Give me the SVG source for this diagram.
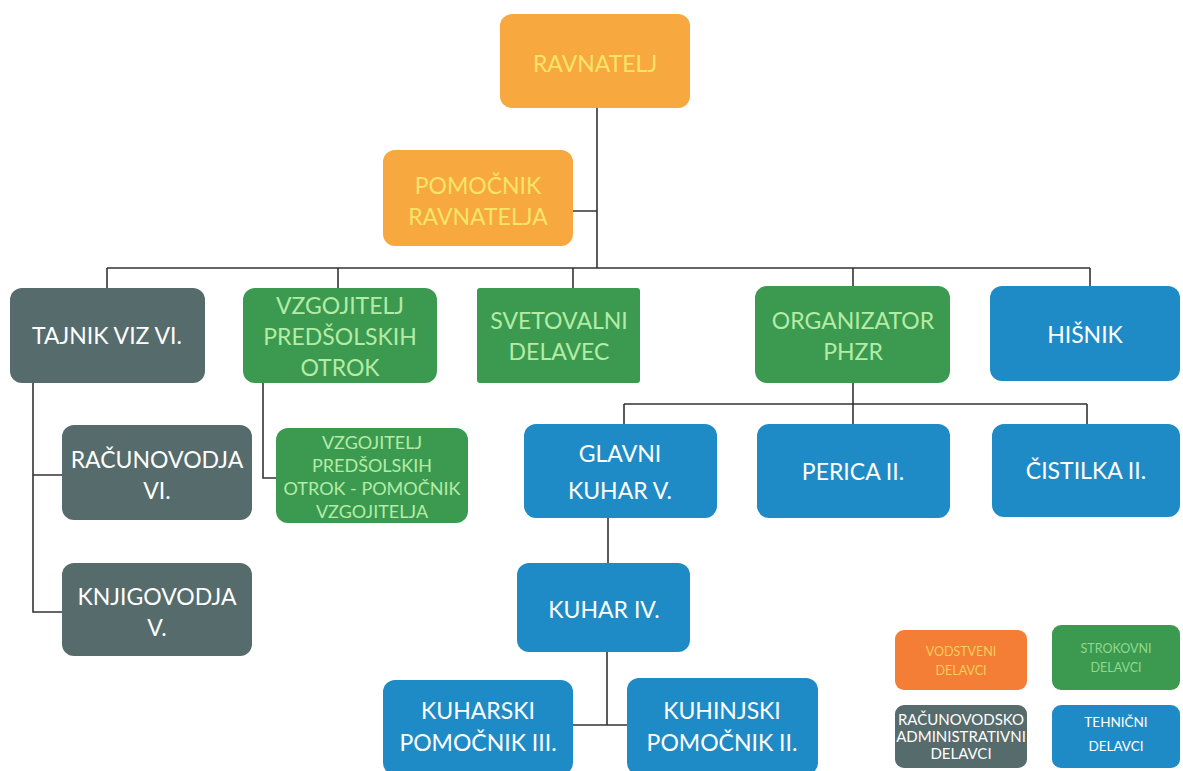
<svg xmlns="http://www.w3.org/2000/svg" width="1183" height="771" viewBox="0 0 1183 771">
<style>
.t{font-family:Lato,"Open Sans","Liberation Sans",sans-serif;font-size:23px;text-anchor:middle;dominant-baseline:central}
.or rect{fill:#f7a83e}
.or text{fill:#f7e46a}
.gr rect{fill:#566b6b}
.gr text{fill:#ffffff}
.gn rect{fill:#3b9a50}
.gn text{fill:#b4eca6}
.bl rect{fill:#1f8bc6}
.bl text{fill:#ffffff}
.c{stroke:#333;stroke-width:1.6;fill:none}
.s{font-size:18px}
.xs{font-size:12.5px}
.xm{font-size:15px}
</style>
<rect width="1183" height="771" fill="#ffffff"/>
<g id="connectors" class="c">
<path d="M597 108V268M573 211H597M107 268H1090M107 268V288M338 268V288M573 268V288M853 268V286M1090 268V286"/>
<path d="M33 383V612H62M33 475H62"/>
<path d="M263 383V478H276"/>
<path d="M853 383V404M624 404H1087M624 404V424M853 404V424M1087 404V424"/>
<path d="M608 518V563M607 652V725M573 725H627"/>
</g>
<g id="ravnatelj" class="or"><rect x="500" y="14" width="190" height="94" rx="12"/><text class="t" x="595" y="63">RAVNATELJ</text></g>
<g id="pomocnik" class="or"><rect x="383" y="150" width="190" height="96" rx="12"/><text class="t" x="478" y="185">POMOČNIK</text><text class="t" x="478" y="216">RAVNATELJA</text></g>
<g id="tajnik" class="gr"><rect x="10" y="288" width="195" height="95" rx="12"/><text class="t" x="107" y="335">TAJNIK VIZ VI.</text></g>
<g id="vzgojitelj" class="gn"><rect x="243" y="288" width="194" height="95" rx="12"/><text class="t" x="340" y="305">VZGOJITELJ</text><text class="t" x="340" y="336">PREDŠOLSKIH</text><text class="t" x="340" y="367">OTROK</text></g>
<g id="svetovalni" class="gn"><rect x="477" y="288" width="163" height="95" rx="3"/><text class="t" x="559" y="320">SVETOVALNI</text><text class="t" x="559" y="351">DELAVEC</text></g>
<g id="organizator" class="gn"><rect x="755" y="286" width="195" height="97" rx="12"/><text class="t" x="853" y="320">ORGANIZATOR</text><text class="t" x="853" y="351">PHZR</text></g>
<g id="hisnik" class="bl"><rect x="990" y="286" width="190" height="95" rx="12"/><text class="t" x="1085" y="334">HIŠNIK</text></g>
<g id="racunovodja" class="gr"><rect x="62" y="425" width="190" height="95" rx="12"/><text class="t" x="157" y="459">RAČUNOVODJA</text><text class="t" x="157" y="490">VI.</text></g>
<g id="knjigovodja" class="gr"><rect x="62" y="563" width="190" height="93" rx="12"/><text class="t" x="157" y="596">KNJIGOVODJA</text><text class="t" x="157" y="627">V.</text></g>
<g id="pomocnik-vzgojitelja" class="gn"><rect x="276" y="428" width="192" height="95" rx="12"/><text class="t s" x="372" y="442">VZGOJITELJ</text><text class="t s" x="372" y="465">PREDŠOLSKIH</text><text class="t s" x="372" y="488">OTROK - POMOČNIK</text><text class="t s" x="372" y="511">VZGOJITELJA</text></g>
<g id="glavni-kuhar" class="bl"><rect x="524" y="424" width="193" height="94" rx="12"/><text class="t" x="620" y="453">GLAVNI</text><text class="t" x="620" y="490">KUHAR V.</text></g>
<g id="perica" class="bl"><rect x="757" y="424" width="193" height="94" rx="12"/><text class="t" x="853" y="471">PERICA II.</text></g>
<g id="cistilka" class="bl"><rect x="992" y="424" width="188" height="93" rx="12"/><text class="t" x="1086" y="470">ČISTILKA II.</text></g>
<g id="kuhar-iv" class="bl"><rect x="517" y="563" width="173" height="89" rx="12"/><text class="t" x="604" y="609">KUHAR IV.</text></g>
<g id="kuharski" class="bl"><rect x="383" y="680" width="190" height="95" rx="12"/><text class="t" x="478" y="710">KUHARSKI</text><text class="t" x="478" y="742">POMOČNIK III.</text></g>
<g id="kuhinjski" class="bl"><rect x="627" y="678" width="191" height="97" rx="12"/><text class="t" x="722" y="710">KUHINJSKI</text><text class="t" x="722" y="742">POMOČNIK II.</text></g>
<g id="legend">
<g id="leg-vodstveni"><rect x="895" y="630" width="132" height="60" rx="9" fill="#f47e36"/><text class="t xs" x="961" y="651" fill="#f2cf5a">VODSTVENI</text><text class="t xs" x="961" y="670" fill="#f2cf5a">DELAVCI</text></g>
<g id="leg-strokovni"><rect x="1052" y="625" width="128" height="65" rx="9" fill="#3c9a50"/><text class="t xs" x="1116" y="648" fill="#8fd98d">STROKOVNI</text><text class="t xs" x="1116" y="667" fill="#8fd98d">DELAVCI</text></g>
<g id="leg-racunovodsko"><rect x="895" y="705" width="132" height="63" rx="9" fill="#566b6b"/><text class="t xm" x="961" y="719" fill="#ffffff">RAČUNOVODSKO</text><text class="t xm" x="961" y="736" fill="#ffffff">ADMINISTRATIVNI</text><text class="t xm" x="961" y="753" fill="#ffffff">DELAVCI</text></g>
<g id="leg-tehnicni"><rect x="1052" y="705" width="128" height="63" rx="9" fill="#1f8bc6"/><text class="t xs" x="1116" y="722" fill="#ffffff" style="font-size:13.5px">TEHNIČNI</text><text class="t xs" x="1116" y="746" fill="#ffffff" style="font-size:13.5px">DELAVCI</text></g>
</g>
</svg>
